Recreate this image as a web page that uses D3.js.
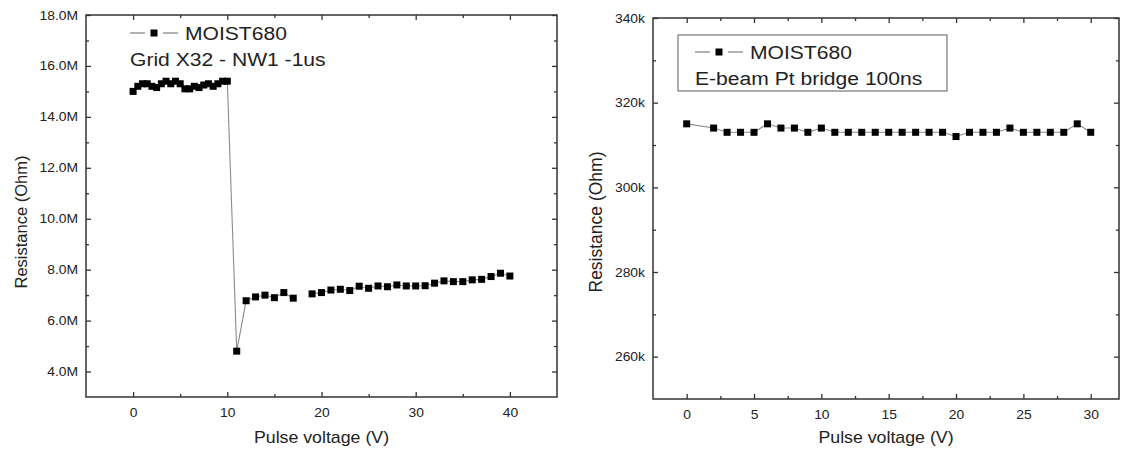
<!DOCTYPE html>
<html>
<head>
<meta charset="utf-8">
<script src="https://cdn.jsdelivr.net/npm/d3@7"></script>
<style>
  body { margin: 0; background: #fff; }
  svg { display: block; }
  text { font-family: "Liberation Sans", Arial, Helvetica, sans-serif; fill: #222; }
</style>
</head>
<body>
<svg id="chart" width="1122" height="452"></svg>
<script>
// ---- Left panel: Grid X32 - NW1, 1 us pulses ----
const gridVoltage = [
  0, 0.5, 1, 1.5, 2, 2.5, 3, 3.5, 4, 4.5, 5, 5.5, 6, 6.5, 7, 7.5, 8, 8.5, 9, 9.5, 10,
  11, 12, 13, 14, 15, 16, 17, 18, 19, 20, 21, 22, 23, 24, 25, 26, 27, 28, 29, 30,
  31, 32, 33, 34, 35, 36, 37, 38, 39, 40
];
// resistance in MOhm; 18 V has no reading
const gridResistanceM = [
  15.0, 15.2, 15.3, 15.3, 15.2, 15.15, 15.3, 15.4, 15.3, 15.4, 15.3, 15.1, 15.1, 15.2, 15.15, 15.25, 15.3, 15.2, 15.3, 15.4, 15.4,
  4.8, 6.78, 6.93, 7.0, 6.9, 7.1, 6.88, null, 7.05, 7.1, 7.2, 7.23, 7.18, 7.35, 7.27, 7.36, 7.33, 7.4, 7.36, 7.36,
  7.37, 7.47, 7.56, 7.53, 7.53, 7.6, 7.62, 7.73, 7.86, 7.75
];
const gridXTicks = [0, 10, 20, 30, 40];
const gridXMinor = [5, 15, 25, 35];
const gridYTicksM = [4, 6, 8, 10, 12, 14, 16, 18];
const gridYMinorM = [5, 7, 9, 11, 13, 15, 17];
const gridLegend = ["MOIST680", "Grid X32 - NW1 -1us"];

// ---- Right panel: E-beam Pt bridge, 100 ns pulses ----
const bridgeVoltage = [0, 2, 3, 4, 5, 6, 7, 8, 9, 10, 11, 12, 13, 14, 15, 16, 17, 18, 19, 20,
  21, 22, 23, 24, 25, 26, 27, 28, 29, 30];
// resistance in kOhm
const bridgeResistanceK = [315, 314, 313, 313, 313, 315, 314, 314, 313, 314, 313, 313, 313, 313, 313, 313, 313, 313, 313, 312,
  313, 313, 313, 314, 313, 313, 313, 313, 315, 313];
const bridgeXTicks = [0, 5, 10, 15, 20, 25, 30];
const bridgeXMinor = [2.5, 7.5, 12.5, 17.5, 22.5, 27.5];
const bridgeYTicksK = [260, 280, 300, 320, 340];
const bridgeYMinorK = [270, 290, 310, 330];
const bridgeLegend = ["MOIST680", "E-beam Pt bridge 100ns"];

const xTitle = "Pulse voltage (V)";
const yTitle = "Resistance (Ohm)";

const svg = d3.select("#chart");
const WIDEN = 1.11; // text is set slightly wide

// place a text at (x, y) with a horizontal widening
function wideText(parent, x, y, str, size, anchor) {
  return parent.append("text")
    .attr("transform", `translate(${x},${y}) scale(${WIDEN},1)`)
    .attr("text-anchor", anchor || "start")
    .style("font-size", size + "px")
    .text(str);
}

function drawPanel(cfg) {
  const g = svg.append("g");
  const x = d3.scaleLinear().domain(cfg.xDomain).range([cfg.left, cfg.right]);
  const y = d3.scaleLinear().domain(cfg.yDomain).range([cfg.bottom, cfg.top]);
  const major = 5, minor = 3;

  function axisGroup(axis, tx, ty) {
    const a = g.append("g").attr("transform", `translate(${tx},${ty})`).call(axis);
    a.select(".domain").remove();
    a.selectAll("line").attr("stroke", "#333").attr("stroke-width", 1.3);
    a.selectAll("text").each(function () {
      const t = d3.select(this);
      const tx0 = +t.attr("x") || 0, ty0 = +t.attr("y") || 0;
      t.attr("x", null).attr("y", null)
        .attr("transform", `translate(${tx0},${ty0}) scale(${WIDEN},1)`);
    })
      .attr("fill", "#2a2a2a").style("font-size", "12.5px")
      .attr("font-family", null);
    return a;
  }

  // bottom axis with labels, ticks pointing inward
  axisGroup(d3.axisBottom(x).tickValues(cfg.xTicks).tickSizeInner(-major).tickSizeOuter(0).tickPadding(11), 0, cfg.bottom);
  axisGroup(d3.axisBottom(x).tickValues(cfg.xMinor).tickSizeInner(-minor).tickSizeOuter(0).tickFormat(""), 0, cfg.bottom);
  // top axis, ticks only
  axisGroup(d3.axisTop(x).tickValues(cfg.xTicks).tickSizeInner(-major).tickSizeOuter(0).tickFormat(""), 0, cfg.top);
  axisGroup(d3.axisTop(x).tickValues(cfg.xMinor).tickSizeInner(-minor).tickSizeOuter(0).tickFormat(""), 0, cfg.top);
  // left axis with labels
  axisGroup(d3.axisLeft(y).tickValues(cfg.yTicks).tickSizeInner(-major).tickSizeOuter(0).tickPadding(8).tickFormat(cfg.yFormat), cfg.left, 0);
  axisGroup(d3.axisLeft(y).tickValues(cfg.yMinor).tickSizeInner(-minor).tickSizeOuter(0).tickFormat(""), cfg.left, 0);
  // right axis, ticks only
  axisGroup(d3.axisRight(y).tickValues(cfg.yTicks).tickSizeInner(-major).tickSizeOuter(0).tickFormat(""), cfg.right, 0);
  axisGroup(d3.axisRight(y).tickValues(cfg.yMinor).tickSizeInner(-minor).tickSizeOuter(0).tickFormat(""), cfg.right, 0);

  // frame
  g.append("rect")
    .attr("x", cfg.left).attr("y", cfg.top)
    .attr("width", cfg.right - cfg.left).attr("height", cfg.bottom - cfg.top)
    .attr("fill", "none").attr("stroke", "#333").attr("stroke-width", 1.5);

  // axis titles
  wideText(g, (cfg.left + cfg.right) / 2, 443, xTitle, 16, "middle");
  g.append("text")
    .attr("transform", `translate(${cfg.yTitleX},${cfg.yTitleY}) rotate(-90)`)
    .attr("text-anchor", "middle").style("font-size", cfg.yTitleSize + "px")
    .text(yTitle);

  // data
  const pts = cfg.xs.map((v, i) => ({ x: v, r: cfg.ys[i] }));
  const line = d3.line()
    .defined(d => d.r != null)
    .x(d => x(d.x)).y(d => y(d.r));
  g.append("path").datum(pts)
    .attr("d", line).attr("fill", "none")
    .attr("stroke", "#8a8a8a").attr("stroke-width", 1.1);
  const s = 7;
  g.selectAll("rect.pt").data(pts.filter(d => d.r != null)).join("rect")
    .attr("class", "pt")
    .attr("x", d => x(d.x) - s / 2).attr("y", d => y(d.r) - s / 2)
    .attr("width", s).attr("height", s)
    .attr("fill", "#000");

  // legend
  const L = cfg.legend;
  if (L.box) {
    g.append("rect")
      .attr("x", L.box[0]).attr("y", L.box[1]).attr("width", L.box[2]).attr("height", L.box[3])
      .attr("fill", "#fff").attr("stroke", "#777").attr("stroke-width", 1.2);
  }
  g.append("line").attr("x1", L.sx).attr("x2", L.sx + 15).attr("y1", L.sy).attr("y2", L.sy)
    .attr("stroke", "#8a8a8a").attr("stroke-width", 1.3);
  g.append("line").attr("x1", L.sx + 33).attr("x2", L.sx + 48).attr("y1", L.sy).attr("y2", L.sy)
    .attr("stroke", "#8a8a8a").attr("stroke-width", 1.3);
  g.append("rect").attr("x", L.sx + 24 - s / 2).attr("y", L.sy - s / 2)
    .attr("width", s).attr("height", s).attr("fill", "#000");
  wideText(g, L.sx + 55, L.sy + 6.5, cfg.legendText[0], 19);
  wideText(g, L.sx, L.line2y, cfg.legendText[1], 19);
}

drawPanel({
  left: 86, right: 557, top: 15, bottom: 397,
  xDomain: [-5, 45], yDomain: [3, 18],
  xTicks: gridXTicks, xMinor: gridXMinor,
  yTicks: gridYTicksM, yMinor: gridYMinorM,
  yFormat: d => d.toFixed(1) + "M",
  xs: gridVoltage, ys: gridResistanceM,
  yTitleX: 27, yTitleY: 222, yTitleSize: 16.5,
  legend: { sx: 130, sy: 33, line2y: 66 },
  legendText: gridLegend
});

drawPanel({
  left: 653, right: 1119, top: 18, bottom: 399,
  xDomain: [-2.5, 32.1], yDomain: [250, 340],
  xTicks: bridgeXTicks, xMinor: bridgeXMinor,
  yTicks: bridgeYTicksK, yMinor: bridgeYMinorK,
  yFormat: d => d + "k",
  xs: bridgeVoltage, ys: bridgeResistanceK,
  yTitleX: 602, yTitleY: 222, yTitleSize: 17.5,
  legend: { box: [678, 35, 269, 56], sx: 695, sy: 52, line2y: 85 },
  legendText: bridgeLegend
});
</script>
</body>
</html>
